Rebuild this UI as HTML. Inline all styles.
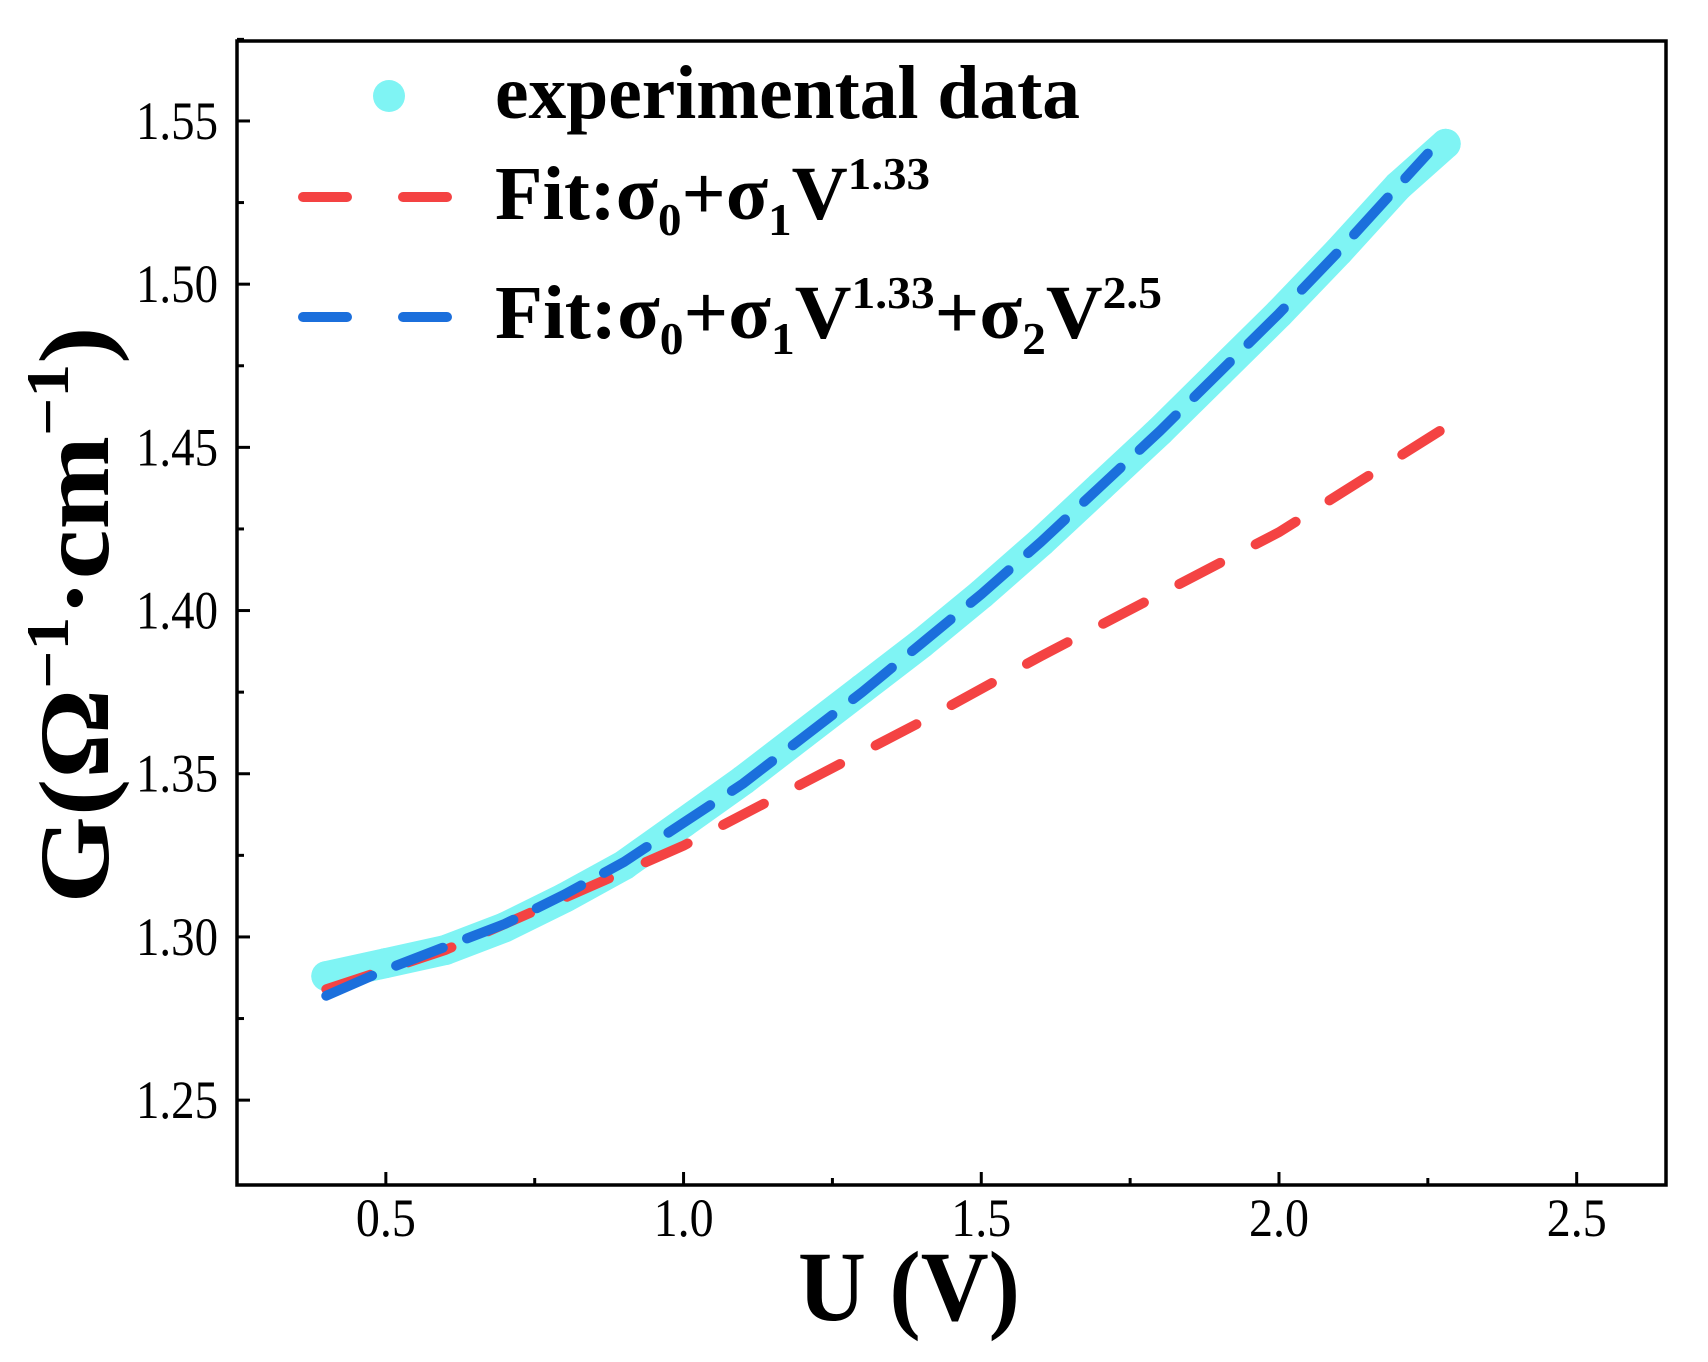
<!DOCTYPE html>
<html><head><meta charset="utf-8"><style>
html,body{margin:0;padding:0;background:#fff;}
svg{display:block;}
text{font-family:"Liberation Serif",serif;fill:#000;}
</style></head><body>
<svg id="chart" width="1708" height="1362" viewBox="0 0 1708 1362" xmlns="http://www.w3.org/2000/svg">
<g id="plot"></g>
<g id="axes"></g>
<g id="legend">
  <circle cx="389" cy="96" r="16" fill="#7ff4f4"/>
  <text x="495" y="118" font-size="76" font-weight="bold" textLength="585" lengthAdjust="spacingAndGlyphs">experimental data</text>
  <line x1="303" y1="197" x2="466" y2="197" stroke="#f44343" stroke-width="10" stroke-linecap="round" stroke-dasharray="44 56"/>
  <text x="495" y="219" font-size="76" font-weight="bold" textLength="435" lengthAdjust="spacingAndGlyphs">Fit:σ<tspan font-size="46" dy="16">0</tspan><tspan dy="-16">+σ</tspan><tspan font-size="46" dy="16">1</tspan><tspan dy="-16">V</tspan><tspan font-size="46" dy="-30">1.33</tspan></text>
  <line x1="303" y1="317" x2="466" y2="317" stroke="#1b6fdc" stroke-width="10" stroke-linecap="round" stroke-dasharray="44 56"/>
  <text x="495" y="338" font-size="76" font-weight="bold" textLength="667" lengthAdjust="spacingAndGlyphs">Fit:σ<tspan font-size="46" dy="16">0</tspan><tspan dy="-16">+σ</tspan><tspan font-size="46" dy="16">1</tspan><tspan dy="-16">V</tspan><tspan font-size="46" dy="-30">1.33</tspan><tspan dy="30">+σ</tspan><tspan font-size="46" dy="16">2</tspan><tspan dy="-16">V</tspan><tspan font-size="46" dy="-30">2.5</tspan></text>
</g>
<text x="909" y="1320" font-size="100" font-weight="bold" text-anchor="middle" textLength="222" lengthAdjust="spacingAndGlyphs">U (V)</text>
<text transform="translate(108,615) rotate(-90)" font-size="100" font-weight="bold" text-anchor="middle" textLength="577" lengthAdjust="spacingAndGlyphs">G(Ω<tspan font-size="60" dy="-40">−1</tspan><tspan dy="40">·cm</tspan><tspan font-size="60" dy="-40">−1</tspan><tspan dy="40">)</tspan></text>
</svg>
<script>
const expX = [0.40,0.50,0.60,0.70,0.80,0.90,1.00,1.10,1.20,1.30,1.40,1.50,1.60,1.70,1.80,1.90,2.00,2.10,2.20,2.28];
const expY = [1.288,1.292,1.296,1.303,1.312,1.322,1.335,1.348,1.362,1.376,1.390,1.405,1.421,1.438,1.455,1.473,1.491,1.510,1.530,1.543];
const fit2X = [0.40,0.50,0.60,0.70,0.80,0.90,1.00,1.10,1.20,1.30,1.40,1.50,1.60,1.70,1.80,1.90,2.00,2.10,2.25];
const fit2Y = [1.282,1.290,1.297,1.304,1.313,1.323,1.335,1.347,1.361,1.375,1.390,1.405,1.421,1.438,1.455,1.473,1.491,1.510,1.540];
const fit1X = [0.40,0.60,0.80,1.00,1.20,1.40,1.60,1.80,2.00,2.27];
const fit1Y = [1.284,1.296,1.312,1.328,1.347,1.366,1.386,1.405,1.424,1.455];
const xTicks = [0.5,1.0,1.5,2.0,2.5];
const xTickLabels = ["0.5","1.0","1.5","2.0","2.5"];
const yTicks = [1.25,1.30,1.35,1.40,1.45,1.50,1.55];
const yTickLabels = ["1.25","1.30","1.35","1.40","1.45","1.50","1.55"];

const L=237, R=1666, T=41, B=1185;
const xMin=0.25, xMax=2.65, yMin=1.2240, yMax=1.5745;
const sx = v => L + (v-xMin)/(xMax-xMin)*(R-L);
const sy = v => B - (v-yMin)/(yMax-yMin)*(B-T);
const NS="http://www.w3.org/2000/svg";
const plot=document.getElementById('plot'), axes=document.getElementById('axes');
function mk(tag, attrs, parent){const e=document.createElementNS(NS,tag);for(const k in attrs)e.setAttribute(k,attrs[k]);parent.appendChild(e);return e;}
function pathD(xs,ys){return xs.map((x,i)=>(i?'L':'M')+sx(x).toFixed(1)+','+sy(ys[i]).toFixed(1)).join(' ');}

const band=mk('path',{d:pathD(expX,expY),fill:'none',stroke:'#7ff4f4','stroke-width':30,'stroke-linecap':'round','stroke-linejoin':'round'},plot);


expX.forEach((x,i)=>{const c=mk('circle',{cx:sx(x),cy:sy(expY[i]),r:15,fill:'#7ff4f4'},plot);

});
const red=mk('path',{d:pathD(fit1X,fit1Y),fill:'none',stroke:'#f44343','stroke-width':10,'stroke-linecap':'round','stroke-dasharray':'46 40'},plot);


const blue=mk('path',{d:pathD(fit2X,fit2Y),fill:'none',stroke:'#1b6fdc','stroke-width':10,'stroke-linecap':'round','stroke-dasharray':'50 26'},plot);



const frame=mk('rect',{x:L,y:T,width:R-L,height:B-T,fill:'none',stroke:'#000','stroke-width':3.5},axes);


xTicks.forEach((v,i)=>{
  const t=mk('line',{x1:sx(v),x2:sx(v),y1:B,y2:B-13,stroke:'#000','stroke-width':3},axes);
  
  
  if(i<xTicks.length-1){const m=mk('line',{x1:sx(v+0.25),x2:sx(v+0.25),y1:B,y2:B-7,stroke:'#000','stroke-width':3},axes);
  
  }
  const lb=mk('text',{x:sx(v),y:1236,'font-size':54,'text-anchor':'middle',textLength:60,lengthAdjust:'spacingAndGlyphs'},axes);
  lb.textContent=xTickLabels[i];
  
  
});
yTicks.forEach((v,i)=>{
  const t=mk('line',{x1:L,x2:L+13,y1:sy(v),y2:sy(v),stroke:'#000','stroke-width':3},axes);
  
  
  if(i<yTicks.length-1){const m=mk('line',{x1:L,x2:L+7,y1:sy(v+0.025),y2:sy(v+0.025),stroke:'#000','stroke-width':3},axes);
  
  }
  const lb=mk('text',{x:218,y:sy(v)+18,'font-size':54,'text-anchor':'end',textLength:82,lengthAdjust:'spacingAndGlyphs'},axes);
  lb.textContent=yTickLabels[i];
  
  
});
const m0=mk('line',{x1:L,x2:L+7,y1:sy(1.575),y2:sy(1.575),stroke:'#000','stroke-width':3},axes);


</script>
</body></html>
